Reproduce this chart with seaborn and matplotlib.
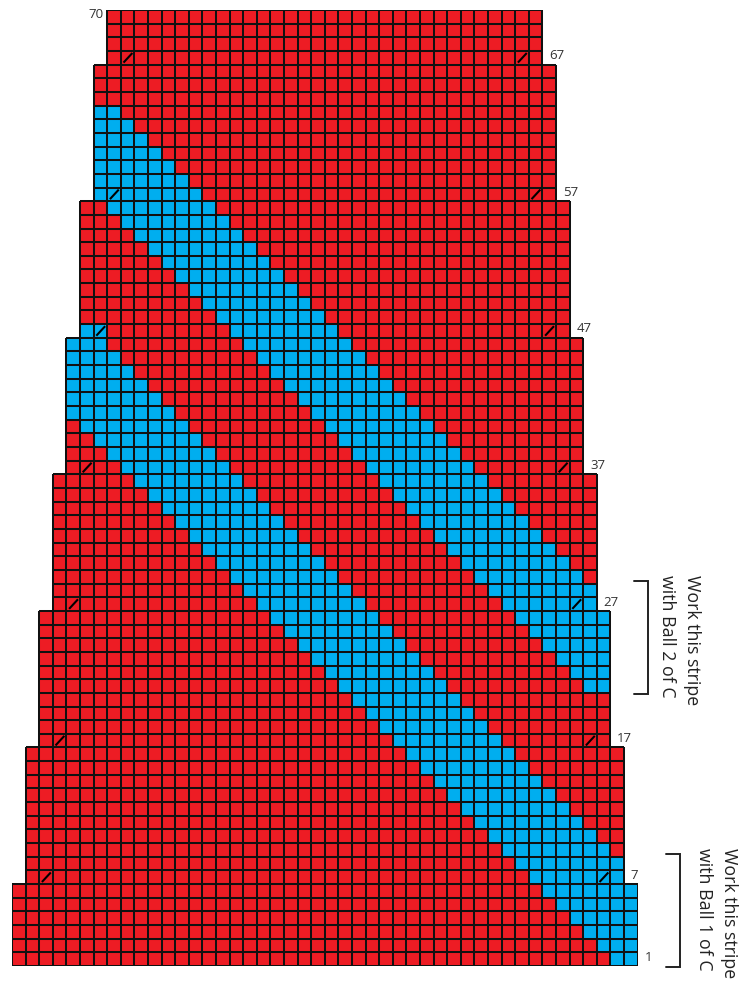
import re
import numpy as np
import pandas as pd
import matplotlib
matplotlib.use("Agg")
import matplotlib.pyplot as plt
import seaborn as sns
from matplotlib.colors import ListedColormap

# ---------------- data ----------------
# Chart rows from row 70 (top) down to row 1 (bottom), written as run lengths:
# "." = no stitch, "R" = main colour (red), "B" = contrast colour C (blue)
row_numbers = list(range(70, 0, -1))
row_runs = [
    "7. 32R 7.",             # 70
    "7. 32R 7.",             # 69
    "7. 32R 7.",             # 68
    "7. 32R 7.",             # 67
    "6. 34R 6.",             # 66
    "6. 34R 6.",             # 65
    "6. 34R 6.",             # 64
    "6. 2B 32R 6.",          # 63
    "6. 3B 31R 6.",          # 62
    "6. 4B 30R 6.",          # 61
    "6. 5B 29R 6.",          # 60
    "6. 6B 28R 6.",          # 59
    "6. 7B 27R 6.",          # 58
    "6. 8B 26R 6.",          # 57
    "5. 2R 8B 26R 5.",       # 56
    "5. 3R 8B 25R 5.",       # 55
    "5. 4R 8B 24R 5.",       # 54
    "5. 5R 8B 23R 5.",       # 53
    "5. 6R 8B 22R 5.",       # 52
    "5. 7R 8B 21R 5.",       # 51
    "5. 8R 8B 20R 5.",       # 50
    "5. 9R 8B 19R 5.",       # 49
    "5. 10R 8B 18R 5.",      # 48
    "5. 2B 9R 8B 17R 5.",    # 47
    "4. 3B 10R 8B 17R 4.",   # 46
    "4. 4B 10R 8B 16R 4.",   # 45
    "4. 5B 10R 8B 15R 4.",   # 44
    "4. 6B 10R 8B 14R 4.",   # 43
    "4. 7B 10R 8B 13R 4.",   # 42
    "4. 8B 10R 8B 12R 4.",   # 41
    "4. 1R 8B 10R 8B 11R 4.",  # 40
    "4. 2R 8B 10R 8B 10R 4.",  # 39
    "4. 3R 8B 10R 8B 9R 4.",   # 38
    "4. 4R 8B 10R 8B 8R 4.",   # 37
    "3. 6R 8B 10R 8B 8R 3.",   # 36
    "3. 7R 8B 10R 8B 7R 3.",   # 35
    "3. 8R 8B 10R 8B 6R 3.",   # 34
    "3. 9R 8B 10R 8B 5R 3.",   # 33
    "3. 10R 8B 10R 8B 4R 3.",  # 32
    "3. 11R 8B 10R 8B 3R 3.",  # 31
    "3. 12R 8B 10R 8B 2R 3.",  # 30
    "3. 13R 8B 10R 8B 1R 3.",  # 29
    "3. 14R 8B 10R 8B 3.",     # 28
    "3. 15R 8B 10R 7B 3.",     # 27
    "2. 17R 8B 10R 7B 2.",     # 26
    "2. 18R 8B 10R 6B 2.",     # 25
    "2. 19R 8B 10R 5B 2.",     # 24
    "2. 20R 8B 10R 4B 2.",     # 23
    "2. 21R 8B 10R 3B 2.",     # 22
    "2. 22R 8B 10R 2B 2.",     # 21
    "2. 23R 8B 11R 2.",        # 20
    "2. 24R 8B 10R 2.",        # 19
    "2. 25R 8B 9R 2.",         # 18
    "2. 26R 8B 8R 2.",         # 17
    "1. 28R 8B 8R 1.",         # 16
    "1. 29R 8B 7R 1.",         # 15
    "1. 30R 8B 6R 1.",         # 14
    "1. 31R 8B 5R 1.",         # 13
    "1. 32R 8B 4R 1.",         # 12
    "1. 33R 8B 3R 1.",         # 11
    "1. 34R 8B 2R 1.",         # 10
    "1. 35R 8B 1R 1.",         # 9
    "1. 36R 8B 1.",            # 8
    "1. 37R 7B 1.",            # 7
    "39R 7B",                  # 6
    "40R 6B",                  # 5
    "41R 5B",                  # 4
    "42R 4B",                  # 3
    "43R 3B",                  # 2
    "44R 2B",                  # 1
]

# decrease rows (slash symbols) and the stitch columns holding the slash
slash_rows = [67, 57, 47, 37, 27, 17, 7]
slash_left_cols = [8, 7, 6, 5, 4, 3, 2]
slash_right_cols = [37, 38, 39, 40, 41, 42, 43]

# row-number labels
label_rows = [70, 67, 57, 47, 37, 27, 17, 7, 1]
label_texts = ["70", "67", "57", "47", "37", "27", "17", "7", "1"]
label_sides = ["left", "right", "right", "right", "right", "right", "right", "right", "right"]

# stripe notes: (first row, last row) covered by each bracket
note_lines = [("Work this stripe", "with Ball 2 of C"), ("Work this stripe", "with Ball 1 of C")]
note_row_spans = [(21, 28), (1, 8)]

RED = "#ED1C24"
BLUE = "#00AEEF"

# ---------------- build grid ----------------
grid = []
for runs in row_runs:
    cells = []
    for n, s in re.findall(r"(\d+)([.RB])", runs):
        cells += [s] * int(n)
    grid.append(cells)
codes = {".": np.nan, "R": 0.0, "B": 1.0}
mat = np.array([[codes[c] for c in row] for row in grid])
n_rows, n_cols = mat.shape
df = pd.DataFrame(mat, index=row_numbers)
mask = np.isnan(mat)

sns.set_theme(style="white")
plt.rcParams["font.family"] = ["Open Sans", "DejaVu Sans"]

W, H = 751, 983
fig = plt.figure(figsize=(W / 100, H / 100), dpi=100)
fig.patch.set_facecolor("white")
ax = fig.add_axes([12 / W, 17 / H, 625.6 / W, 956 / H])

sns.heatmap(df, mask=mask, cmap=ListedColormap([RED, BLUE]), vmin=0, vmax=1,
            cbar=False, linewidths=0, xticklabels=False, yticklabels=False,
            square=False, ax=ax)

# cell borders only where stitches exist
row_index = {r: i for i, r in enumerate(row_numbers)}
for i in range(n_rows):
    cols = np.where(~mask[i])[0]
    lo, hi = cols.min(), cols.max() + 1
    ax.hlines([i, i + 1], lo, hi, colors="#111111", linewidth=1.45, zorder=3)
    ax.vlines(np.arange(lo, hi + 1), i, i + 1, colors="#111111", linewidth=1.45, zorder=3)

# slash symbols
for r, cl, cr in zip(slash_rows, slash_left_cols, slash_right_cols):
    i = row_index[r]
    for c in (cl, cr):
        ax.plot([c + 0.2, c + 0.85], [i + 0.85, i + 0.15], color="black",
                linewidth=1.5, solid_capstyle="butt", zorder=4)

# row labels
for r, t, side in zip(label_rows, label_texts, label_sides):
    i = row_index[r]
    cols = np.where(~mask[i])[0]
    if side == "left":
        ax.text(cols.min() - 0.3, i + 0.35, t, ha="right", va="center",
                fontsize=9.5, color="#333333", clip_on=False)
    else:
        ax.text(cols.max() + 1.5, i + 0.35, t, ha="left", va="center",
                fontsize=9.5, color="#333333", clip_on=False)

# brackets and notes
bracket_x = [46.76, 49.12]
tick_len = 1.05
text_x = [(50.0, 48.16), (52.75, 50.9)]
for (l1, l2), (r0, r1), bx, (tx1, tx2) in zip(note_lines, note_row_spans, bracket_x, text_x):
    y_top = row_index[r1] - 0.2
    y_bot = row_index[r0] + 1.1
    ax.plot([bx - tick_len, bx, bx, bx - tick_len], [y_top, y_top, y_bot, y_bot],
            color="#222222", linewidth=1.4, clip_on=False, solid_joinstyle="miter")
    yc = (y_top + y_bot) / 2
    ax.text(tx1, yc + 0.15, l1, rotation=-90, ha="center", va="center", fontsize=12.8,
            color="#222222", clip_on=False)
    ax.text(tx2, yc - 0.1, l2, rotation=-90, ha="center", va="center", fontsize=12.8,
            color="#222222", clip_on=False)

ax.set_xlim(0, n_cols)
ax.set_ylim(n_rows, 0)
ax.axis("off")

fig.savefig("out.png", dpi=100, facecolor="white")
